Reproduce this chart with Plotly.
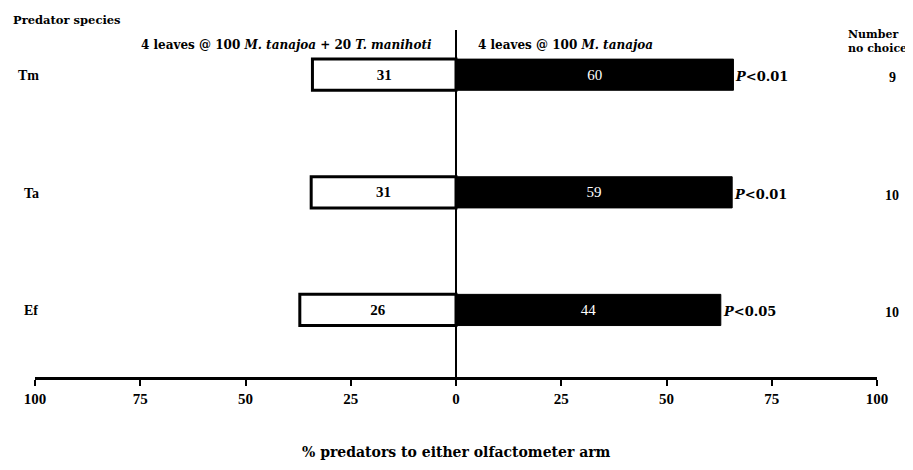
import plotly.graph_objects as go

# Data
species = ["Tm", "Ta", "Ef"]
left_counts = [31, 31, 26]        # 4 leaves @ 100 M. tanajoa + 20 T. manihoti
right_counts = [60, 59, 44]       # 4 leaves @ 100 M. tanajoa
left_pct = [34.1, 34.4, 37.1]
right_pct = [65.9, 65.6, 62.9]
p_labels = ["P<0.01", "P<0.01", "P<0.05"]
no_choice = [9, 10, 10]
tick_vals = [-100, -75, -50, -25, 0, 25, 50, 75, 100]
tick_text = ["100", "75", "50", "25", "0", "25", "50", "75", "100"]

SERIF = "Liberation Serif"
WIDE = "DejaVu Serif"

# page pixel -> paper coords (page has 8px body offset; figure is 905x462)
L, T, PW, PH = 35, 30, 842, 347


def px2paper(px, py):
    return (px - L) / PW, (T + PH - py) / PH


fig = go.Figure()

fig.add_trace(go.Bar(
    y=species, x=[-v for v in left_pct], orientation="h",
    marker=dict(color="white", line=dict(color="black", width=3)),
    width=0.265,
    text=[str(c) for c in left_counts], textposition="inside",
    insidetextanchor="middle",
    textfont=dict(family=SERIF, size=15, color="black", weight="bold"),
    showlegend=False, hoverinfo="skip",
))
fig.add_trace(go.Bar(
    y=species, x=right_pct, orientation="h",
    marker=dict(color="black", line=dict(color="black", width=1)),
    width=0.265,
    text=[str(c) for c in right_counts], textposition="inside",
    insidetextanchor="middle",
    textfont=dict(family=SERIF, size=15, color="white"),
    showlegend=False, hoverinfo="skip",
))

ann = []
label_x = [16, 22, 22]
for s, lx in zip(species, label_x):
    ann.append(dict(x=px2paper(lx, 0)[0], xref="paper", y=s, yref="y", text=s,
                    showarrow=False, xanchor="left", yshift=-1,
                    font=dict(family=SERIF, size=14, color="black", weight="bold")))
for s, r, p in zip(species, right_pct, p_labels):
    ann.append(dict(x=r, xref="x", y=s, yref="y",
                    text="<i>P</i>" + p[1:].replace("<", "&lt;"),
                    showarrow=False, xanchor="left", xshift=0, yshift=-2,
                    font=dict(family=WIDE, size=13, color="black", weight="bold")))
for s, n in zip(species, no_choice):
    ann.append(dict(x=px2paper(892, 0)[0], xref="paper", y=s, yref="y", text=str(n),
                    showarrow=False, xanchor="center", yshift=-3,
                    font=dict(family=SERIF, size=14, color="black", weight="bold")))


def pann(px, py, text, size, family=WIDE, xanchor="left", align="left"):
    x, y = px2paper(px, py)
    return dict(x=x, xref="paper", y=y, yref="paper",
                text=text, showarrow=False, xanchor=xanchor, yanchor="middle", align=align,
                font=dict(family=family, size=size, color="black", weight="bold"))


ann.append(pann(11, 20, "Predator species", 11.5))
ann.append(pann(434, 45, "4 leaves @ 100 <i>M. tanajoa</i> + 20 <i>T. manihoti</i>", 12, xanchor="right"))
ann.append(pann(476, 45, "4 leaves @ 100 <i>M. tanajoa</i>", 12))
ann.append(pann(846, 41, "Number<br>no choice", 11, align="left"))
ann.append(pann(456, 452, "% predators to either olfactometer arm", 14, xanchor="center", align="center"))

fig.update_layout(
    annotations=ann,
    width=905, height=462,
    margin=dict(l=27, r=36, t=22, b=93),
    paper_bgcolor="white", plot_bgcolor="white",
    barmode="overlay",
    font=dict(family=SERIF, color="black"),
    xaxis=dict(range=[-100, 100], tickvals=tick_vals, ticktext=tick_text,
               showgrid=False, zeroline=True, zerolinecolor="black", zerolinewidth=2,
               showline=True, linecolor="black", linewidth=3,
               ticks="outside", ticklen=6, tickwidth=2, tickcolor="black",
               tickfont=dict(family=SERIF, size=15, color="black", weight="bold"),
               fixedrange=True),
    yaxis=dict(categoryorder="array", categoryarray=["Ef", "Ta", "Tm"],
               range=[-0.57, 2.38], showgrid=False, zeroline=False,
               showticklabels=False, showline=False, ticks="", fixedrange=True),
)

fig.write_html("out.html")
